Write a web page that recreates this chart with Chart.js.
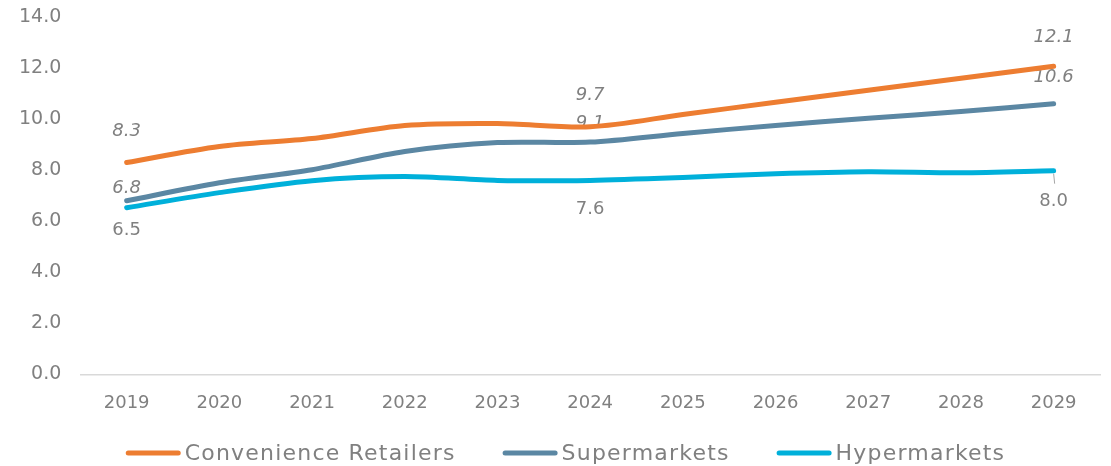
<!DOCTYPE html>
<html><head><meta charset="utf-8">
<script src="https://cdn.jsdelivr.net/npm/chart.js@4.4.1/dist/chart.umd.min.js"></script>
<style>html,body{margin:0;padding:0;background:#fff}#w{width:1111px;height:466px;position:relative}</style>
</head><body><div id="w"><canvas id="c"></canvas></div>
<script>
const years = ['2019','2020','2021','2022','2023','2024','2025','2026','2027','2028','2029'];
const convenience = [8.3, 8.93, 9.24, 9.75, 9.83, 9.7, 10.18, 10.66, 11.13, 11.6, 12.07];
const supermarkets = [6.8, 7.51, 8.02, 8.73, 9.08, 9.1, 9.44, 9.75, 10.03, 10.3, 10.6];
const hypermarkets = [6.53, 7.12, 7.59, 7.75, 7.6, 7.6, 7.71, 7.86, 7.94, 7.9, 7.98];
const labelIdx = [0, 5, 10];
const yTicks = [0, 2, 4, 6, 8, 10, 12, 14];

const FONT = "'DejaVu Sans', sans-serif";
const GREY = '#808080';

const labelCfg = [
  {italic:true, offs:[-31,-31,-29]},
  {italic:true, offs:[-12,-19,-26]},
  {italic:false, offs:[23,29,31], leader:[false,false,true]}
];

const labelPlugin = {
  id:'pointLabels',
  beforeDatasetsDraw(chart){
    const ctx = chart.ctx;
    chart.data.datasets.forEach((ds,di)=>{
      const meta = chart.getDatasetMeta(di);
      const cfg = labelCfg[di];
      labelIdx.forEach((idx,k)=>{
        const pt = meta.data[idx];
        const v = ds.data[idx];
        const y = pt.y + cfg.offs[k];
        ctx.save();
        if(cfg.leader && cfg.leader[k]){
          ctx.strokeStyle = '#a6a6a6'; ctx.lineWidth = 1;
          ctx.beginPath(); ctx.moveTo(pt.x, pt.y+3); ctx.lineTo(pt.x+1, pt.y+13); ctx.stroke();
        }
        ctx.font = (cfg.italic?'italic ':'') + '18px ' + FONT;
        ctx.fillStyle = GREY;
        ctx.textAlign = 'center'; ctx.textBaseline = 'middle';
        ctx.fillText(v.toFixed(1), pt.x, y);
        ctx.restore();
      });
    });
  }
};

const legendPlugin = {
  id:'customLegend',
  afterDraw(chart){
    const ctx = chart.ctx;
    const ds = chart.data.datasets;
    ctx.save();
    ctx.font = '22px ' + FONT;
    ctx.letterSpacing = '1.2px';
    const lineW = 55, gapT = 4, gapItem = 47;
    const widths = ds.map(d=>ctx.measureText(d.label).width);
    const total = widths.reduce((a,w)=>a+lineW+gapT+w,0) + gapItem*(ds.length-1);
    let x = (chart.width - total)/2 + 10;
    const y = 453;
    ds.forEach((d,i)=>{
      ctx.strokeStyle = d.borderColor; ctx.lineWidth = 5; ctx.lineCap='round';
      ctx.beginPath(); ctx.moveTo(x+2.5,y); ctx.lineTo(x+lineW-2.5,y); ctx.stroke();
      ctx.fillStyle = GREY; ctx.textAlign='left'; ctx.textBaseline='middle';
      ctx.fillText(d.label, x+lineW+gapT, y+1);
      x += lineW+gapT+widths[i]+gapItem;
    });
    ctx.restore();
  }
};

new Chart(document.getElementById('c'), {
  type:'line',
  data:{
    labels: years,
    datasets:[
      {label:'Convenience Retailers', data:convenience, borderColor:'#ED7D31', backgroundColor:'#ED7D31'},
      {label:'Supermarkets', data:supermarkets, borderColor:'#5B87A3', backgroundColor:'#5B87A3'},
      {label:'Hypermarkets', data:hypermarkets, borderColor:'#00B0DA', backgroundColor:'#00B0DA'}
    ].map(d=>Object.assign(d,{borderWidth:5, pointRadius:0, tension:0.3, borderCapStyle:'round', borderJoinStyle:'round', fill:false}))
  },
  options:{
    responsive:true, maintainAspectRatio:false, animation:false,
    layout:{padding:{top:0,right:11,left:0,bottom:34}},
    plugins:{
      legend:{display:false},
      tooltip:{enabled:false}
    },
    scales:{
      x:{offset:true, grid:{display:false, drawTicks:false}, border:{display:true,color:'#d9d9d9',width:1.5},
         ticks:{font:{family:FONT,size:18}, color:GREY, padding:18}},
      y:{min:0,max:14, afterBuildTicks(a){a.ticks = yTicks.map(v=>({value:v}));},
         afterFit(s){s.paddingTop = 17;},
         grid:{display:false, drawTicks:false}, border:{display:false},
         ticks:{font:{family:FONT,size:19}, color:GREY, padding:19, callback:v=>Number(v).toFixed(1)}}
    }
  },
  plugins:[labelPlugin, legendPlugin]
});
</script></body></html>
